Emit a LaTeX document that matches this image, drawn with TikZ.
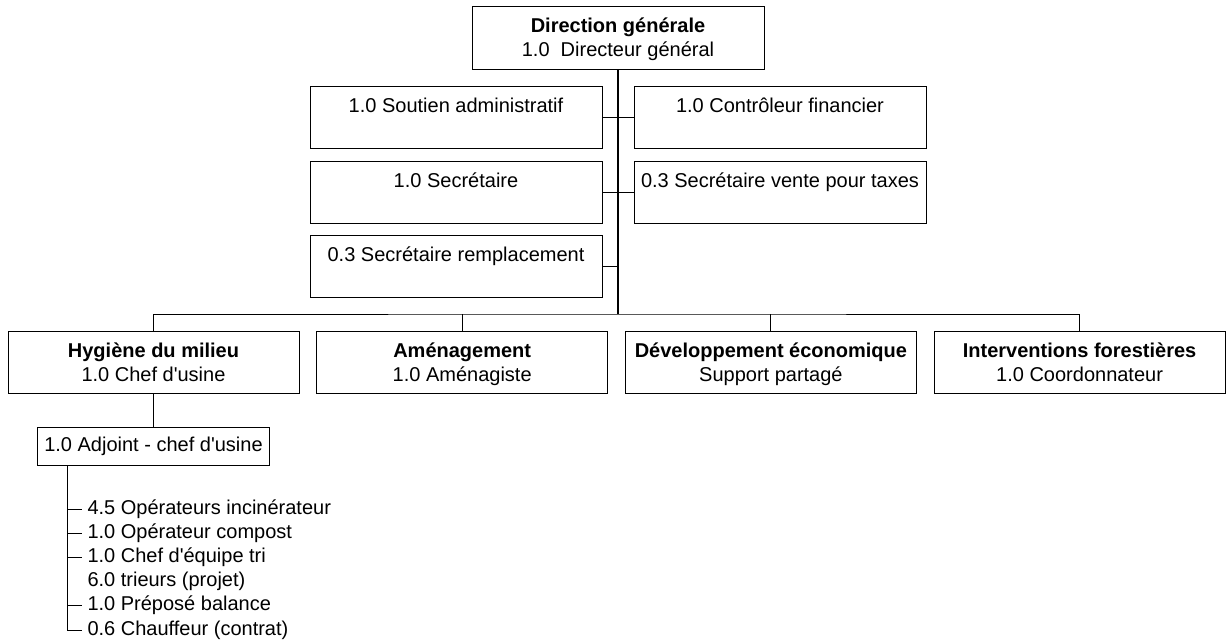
\documentclass[tikz,border=0pt]{standalone}
\usepackage{fontspec}
\setmainfont{Liberation Sans}
\usetikzlibrary{positioning}

\newcommand{\deptlabel}[2]{\rule{0pt}{19pt}\textbf{#1}\\#2\vphantom{g}}

\begin{document}
\begin{tikzpicture}[x=1pt, y=-1pt,
	box/.style={rectangle, draw=black, line width=1pt, align=center, inner sep=0pt, outer sep=0pt, font=\fontsize{20}{24}\selectfont},
	main/.style={box, minimum width=292pt, minimum height=63pt},
	side/.style={box, minimum width=292pt, minimum height=62pt},
	dept/.style={box, minimum width=291pt, minimum height=62pt},
	adj/.style={box, minimum width=232pt, minimum height=38pt},
	task/.style={anchor=west, inner xsep=6pt, inner ysep=0pt, outer sep=0pt, minimum height=24.2pt, text height=15pt, text depth=5pt, font=\fontsize{20}{24}\selectfont},
	link/.style={line width=1pt},
	stem/.style={line width=1.6pt}
	]
	\useasboundingbox (0,0) rectangle (1226,643);

		\node (dg) [main] at (618,37.5) {\deptlabel{Direction générale}{1.0~~Directeur général}};
			\node (soutien) [side, below left=17pt and 16pt of dg.south] {1.0 Soutien administratif\\\mbox{}};
			\node (controleur) [side, below right=17pt and 16pt of dg.south] {1.0 Contrôleur financier\\\mbox{}};
			\node (secretaire) [side, below=13pt of soutien] {1.0 Secrétaire\\\mbox{}};
			\node (secvente) [side, below=13pt of controleur] {0.3 Secrétaire vente pour taxes\\\mbox{}};
			\node (remplacement) [side, below=12pt of secretaire] {0.3 Secrétaire remplacement\\\mbox{}};
			\coordinate (bus) at (618,314);

		\node (hygiene) [dept] at (153.5,362) {\deptlabel{Hygiène du milieu}{1.0 Chef d\textquotesingle usine}};
		\node (amenag) [dept, right=17.7pt of hygiene] {\deptlabel{Aménagement}{1.0 Aménagiste}};
		\node (devel) [dept, right=17.7pt of amenag] {\deptlabel{Développement économique}{Support partagé}};
		\node (interv) [dept, right=17.7pt of devel] {\deptlabel{Interventions forestières}{1.0 Coordonnateur}};

			\node (adjoint) [adj, below=34pt of hygiene] {1.0 Adjoint - chef d\textquotesingle usine};
			\coordinate (spine) at ([xshift=30pt]adjoint.south west);
				\node (incin) [task] at ([shift={(14,44)}]spine) {4.5 Opérateurs incinérateur};
				\node (compost) [task, below=0pt of incin.south west, anchor=north west] {1.0 Opérateur compost};
				\node (chefequipe) [task, below=0pt of compost.south west, anchor=north west] {1.0 Chef d\textquotesingle équipe tri};
				\node (trieurs) [task, below=0pt of chefequipe.south west, anchor=north west] {6.0 trieurs (projet)};
				\node (balance) [task, below=0pt of trieurs.south west, anchor=north west] {1.0 Préposé balance};
				\node (chauffeur) [task, below=0pt of balance.south west, anchor=north west] {0.6 Chauffeur (contrat)};

	\draw [stem] (dg.south) -- (bus);
	\draw [link] (soutien.east) -- (controleur.west);
	\draw [link] (secretaire.east) -- (secvente.west);
	\draw [link] (remplacement.east) -- (remplacement.east -| dg.south);

	\draw [link] (hygiene.north) |- (bus) -| (interv.north);
	\draw [link] (amenag.north) -- (amenag.north |- bus);
	\draw [link] (devel.north) -- (devel.north |- bus);

	\draw [link] (hygiene.south) -- (adjoint.north);
	\draw [link] (spine) |- (chauffeur.west);
	\draw [link] (incin.west) -- (incin.west -| spine);
	\draw [link] (compost.west) -- (compost.west -| spine);
	\draw [link] (chefequipe.west) -- (chefequipe.west -| spine);
	\draw [link] (balance.west) -- (balance.west -| spine);

\end{tikzpicture}
\end{document}
